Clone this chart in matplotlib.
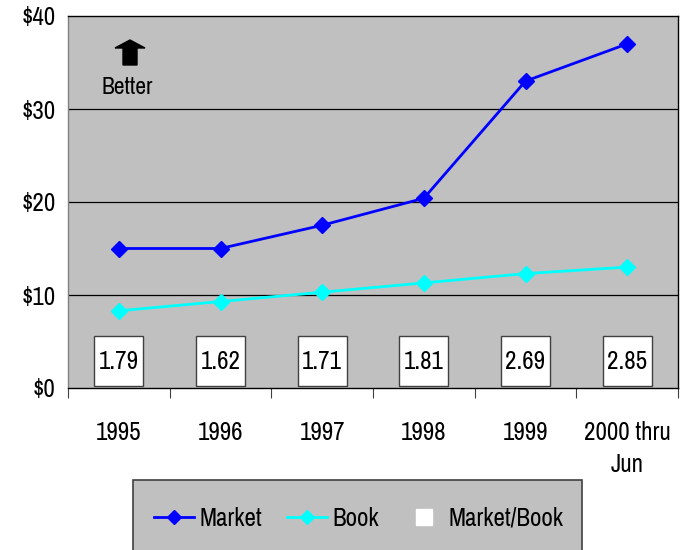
import matplotlib
matplotlib.use("Agg")
import matplotlib.pyplot as plt
from matplotlib import font_manager
from matplotlib.patches import Rectangle, Polygon
from matplotlib.lines import Line2D
import numpy as np

names = {f.name for f in font_manager.fontManager.ttflist}
FONT = 'Archivo Narrow' if 'Archivo Narrow' in names else 'Liberation Sans'
plt.rcParams['font.family'] = [FONT, 'DejaVu Sans']

categories = ['1995', '1996', '1997', '1998', '1999', '2000 thru\nJun']
market = [15.0, 15.0, 17.5, 20.4, 33.0, 37.0]
book = [8.3, 9.3, 10.3, 11.3, 12.3, 13.0]
ratio_labels = ['1.79', '1.62', '1.71', '1.81', '2.69', '2.85']
ytick_vals = [0, 10, 20, 30, 40]
ytick_labels = ['$0', '$10', '$20', '$30', '$40']

W, H = 684, 550
FS = 18
fig = plt.figure(figsize=(W / 100, H / 100), dpi=100)
ax = fig.add_axes([68 / W, 1 - 388 / H, 610 / W, 372 / H])
ax.set_facecolor('#C0C0C0')

x = np.arange(len(categories))
ax.set_xlim(-0.5, len(categories) - 0.5)
ax.set_ylim(0, 40)

for v in ytick_vals[1:-1]:
    ax.axhline(v, color='black', lw=0.9, zorder=1)

ax.plot(x, market, color='#0000FF', lw=2.0, marker='D', ms=8, zorder=3)
ax.plot(x, book, color='#00FFFF', lw=2.0, marker='D', ms=8, zorder=3)

for i, lab in enumerate(ratio_labels):
    ax.add_patch(Rectangle((i - 0.24, 0.2), 0.48, 5.4, facecolor='white',
                           edgecolor='#404040', lw=1.0, zorder=4))
    ax.text(i, 2.9, lab, ha='center', va='center', fontsize=FS, zorder=5)

ax.set_yticks(ytick_vals)
ax.set_yticklabels(ytick_labels, fontsize=FS)
ax.tick_params(axis='y', length=0, pad=9)
ax.set_xticks(np.arange(len(categories) + 1) - 0.5, minor=False)
ax.set_xticklabels([])
ax.tick_params(axis='x', which='major', length=7, color='#404040', direction='out')
ax.set_xticks(x, minor=True)
ax.set_xticklabels(categories, minor=True, fontsize=FS, linespacing=1.45)
ax.tick_params(axis='x', which='minor', length=0, pad=24)
for lbl in ax.get_xticklabels(minor=True):
    lbl.set_verticalalignment('top')

for s in ['top', 'right', 'bottom']:
    ax.spines[s].set_color('black')
ax.spines['left'].set_color('#808080')
for s in ax.spines.values():
    s.set_linewidth(1.0)

# "Better" arrow (figure pixel coordinates)
pts = [(130, 40), (145, 48), (137, 48), (137, 65), (123, 65), (123, 48), (115, 48)]
arrow = Polygon([(px / 100, (H - py) / 100) for px, py in pts], closed=True,
                facecolor='black', edgecolor='black', transform=fig.dpi_scale_trans)
fig.patches.append(arrow)
fig.text(127 / W, 1 - 88 / H, 'Better', ha='center', va='center', fontsize=17)

# Legend box
fig.patches.append(Rectangle((133 / W, -0.05), 449 / W, (550 - 480) / H + 0.05,
                             transform=fig.transFigure, facecolor='#C0C0C0',
                             edgecolor='#404040', lw=1.2))
handles = [
    Line2D([], [], color='#0000FF', lw=2, marker='D', ms=7),
    Line2D([], [], color='#00FFFF', lw=2, marker='D', ms=7),
    Line2D([], [], color='white', lw=0, marker='s', ms=11),
]
fig.legend(handles, ['Market', 'Book', 'Market/Book'], loc='center',
           bbox_to_anchor=(359 / W, 1 - 518 / H), ncol=3, frameon=False,
           fontsize=FS, handlelength=1.6, handletextpad=0.2, columnspacing=1.0)

fig.savefig('out.png', dpi=100)
